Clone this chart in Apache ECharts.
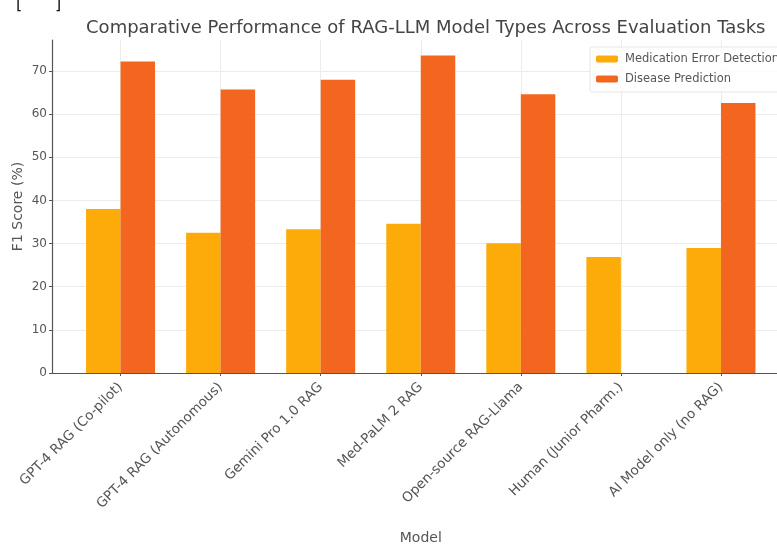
<!DOCTYPE html>
<html>
<head>
<meta charset="utf-8">
<script src="https://cdn.jsdelivr.net/npm/echarts@6/dist/echarts.min.js"></script>
<style>
  html, body { margin: 0; padding: 0; background: #ffffff; }
  #chart { width: 777px; height: 544px; }
</style>
</head>
<body>
<div id="chart"></div>
<script>
// Models compared on the two evaluation tasks
const models = [
  'GPT-4 RAG (Co-pilot)',
  'GPT-4 RAG (Autonomous)',
  'Gemini Pro 1.0 RAG',
  'Med-PaLM 2 RAG',
  'Open-source RAG-Llama',
  'Human (Junior Pharm.)',
  'AI Model only (no RAG)'
];
const medicationErrorDetection = [38, 32.5, 33.3, 34.6, 30.1, 26.9, 29];
const diseasePrediction = [72.2, 65.7, 68, 73.6, 64.6, null, 62.6];
const seriesNames = ['Medication Error Detection', 'Disease Prediction'];
const yTicks = [0, 10, 20, 30, 40, 50, 60, 70];

const chart = echarts.init(document.getElementById('chart'));
const font = 'DejaVu Sans';
const idx = models.map((_, i) => i);
const toPairs = vals => vals.map((v, i) => [i, v]);

chart.setOption({
  animation: false,
  backgroundColor: '#ffffff',
  textStyle: { fontFamily: font },
  title: {
    text: 'Comparative Performance of RAG-LLM Model Types Across Evaluation Tasks',
    left: 420.75,
    textAlign: 'center',
    top: 14,
    textStyle: { fontFamily: font, fontSize: 18, fontWeight: 'normal', color: '#444444' }
  },
  graphic: [
    { type: 'text', left: 16, top: -3, style: { text: '[', fontFamily: font, fontSize: 16, fill: '#111111' } },
    { type: 'text', left: 55, top: -3, style: { text: ']', fontFamily: font, fontSize: 16, fill: '#111111' } }
  ],
  legend: {
    data: seriesNames,
    orient: 'vertical',
    left: 590,
    top: 47,
    itemWidth: 22,
    itemHeight: 7,
    itemGap: 8,
    padding: [6, 6, 7, 6],
    borderColor: '#e6e6e6',
    borderWidth: 1,
    borderRadius: 2,
    backgroundColor: 'rgba(255,255,255,0.85)',
    textStyle: { fontFamily: font, fontSize: 11.5, color: '#555555', padding: [0, 0, 0, 2] }
  },
  grid: {
    left: 52, top: 40, width: 737.5, height: 333,
    containLabel: false,
    outerBoundsMode: 'none'
  },
  xAxis: {
    type: 'value',
    min: -0.685,
    max: 6.685,
    name: 'Model',
    nameLocation: 'middle',
    nameGap: 158,
    nameMoveOverlap: false,
    nameTextStyle: { fontFamily: font, fontSize: 14, color: '#555555' },
    axisLine: { show: true, onZero: false, lineStyle: { color: '#555555', width: 1.2 } },
    axisTick: { show: true, length: 3, customValues: idx, lineStyle: { color: '#555555' } },
    axisLabel: {
      customValues: idx,
      rotate: 45,
      margin: 12,
      fontSize: 13.5,
      color: '#555555',
      fontFamily: font,
      formatter: v => models[Math.round(v)]
    },
    splitLine: { show: true, lineStyle: { color: '#ececec', width: 1 } }
  },
  yAxis: {
    type: 'value',
    min: 0,
    max: 77.2,
    interval: 10,
    name: 'F1 Score (%)',
    nameLocation: 'middle',
    nameGap: 27,
    nameMoveOverlap: false,
    nameTextStyle: { fontFamily: font, fontSize: 14, color: '#555555' },
    axisLine: { show: true, onZero: false, lineStyle: { color: '#555555', width: 1.2 } },
    axisTick: { show: true, length: 3, customValues: yTicks, lineStyle: { color: '#555555' } },
    axisLabel: { customValues: yTicks, fontSize: 12, color: '#555555', margin: 5, fontFamily: font },
    splitLine: { show: true, lineStyle: { color: '#ececec', width: 1 } }
  },
  series: [
    {
      name: seriesNames[0],
      type: 'bar',
      data: toPairs(medicationErrorDetection),
      barWidth: 34.5,
      barGap: '0%',
      itemStyle: { color: '#fdab08' }
    },
    {
      name: seriesNames[1],
      type: 'bar',
      data: toPairs(diseasePrediction),
      barWidth: 34.5,
      barGap: '0%',
      itemStyle: { color: '#f2661f' }
    }
  ]
});
</script>
</body>
</html>
